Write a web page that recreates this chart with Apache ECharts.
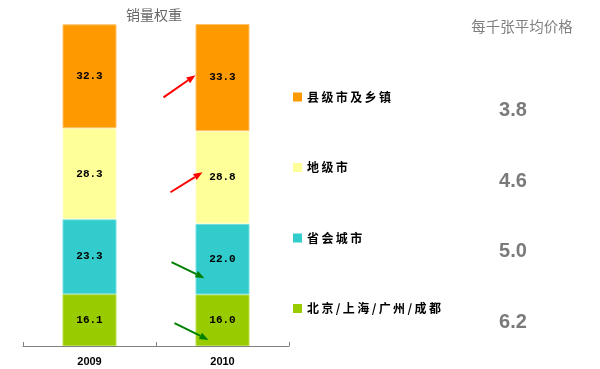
<!DOCTYPE html>
<html>
<head>
<meta charset="utf-8">
<script src="https://cdn.jsdelivr.net/npm/echarts@6/dist/echarts.min.js"></script>
<style>html,body{margin:0;padding:0;background:#fff;}#c{width:600px;height:369px;}</style>
</head>
<body>
<div id="c"></div>
<script>
const years = ['2009', '2010'];
const tierNames = ['北京/上海/广州/成都', '省会城市', '地级市', '县级市及乡镇'];
const tier1 = [16.1, 16.0];
const provincial = [23.3, 22.0];
const prefecture = [28.3, 28.8];
const county = [32.3, 33.3];
const prices = [3.8, 4.6, 5.0, 6.2]; // top-to-bottom: 县级市及乡镇, 地级市, 省会城市, 北京...
const colors = ['#99cc00', '#33cccc', '#ffff99', '#ff9900'];
const borders = ['#b8dd44', '#77e0e0', '#ffffcc', '#ffc266'];

const chart = echarts.init(document.getElementById('c'));
const seriesData = [tier1, provincial, prefecture, county];
const cnFont = '"Noto Sans CJK SC", sans-serif';

const series = seriesData.map((d, i) => ({
  name: tierNames[i],
  type: 'bar',
  stack: 'total',
  barWidth: 54,
  data: d,
  itemStyle: { color: colors[i], borderColor: borders[i], borderWidth: 1 },
  label: {
    show: true, position: 'inside',
    formatter: p => p.value.toFixed(1),
    fontFamily: '"Liberation Mono", monospace', fontSize: 11, fontWeight: 'bold', color: '#000'
  }
}));

chart.setOption({
  animation: false,
  title: [
    { text: '销量权重', left: 149, top: 3, textAlign: 'center',
      textStyle: { fontFamily: cnFont, fontSize: 14, fontWeight: 'normal', color: '#666' } },
    { text: '每千张平均价格', left: 517, top: 14, textAlign: 'center',
      textStyle: { fontFamily: cnFont, fontSize: 14.5, fontWeight: 'normal', color: '#808080' } }
  ],
  legend: {
    orient: 'vertical', left: 293, top: 90, padding: 0,
    icon: 'rect', itemWidth: 9, itemHeight: 9, itemGap: 56.5,
    itemStyle: { borderWidth: 0 },
    data: tierNames.slice().reverse(),
    formatter: n => n.split('').join('\u2009'),
    textStyle: { fontFamily: cnFont, fontSize: 12, fontWeight: 'bold', color: '#000', lineHeight: 14 }
  },
  grid: { left: 23, right: 311, top: 24, bottom: 23 },
  xAxis: {
    type: 'category', data: years,
    axisLine: { lineStyle: { color: '#808080' } },
    axisTick: { show: true, inside: true, length: 4, lineStyle: { color: '#808080' } },
    axisLabel: { margin: 10, fontFamily: '"Liberation Sans", sans-serif', fontWeight: 'bold', fontSize: 11, color: '#000' }
  },
  yAxis: { type: 'value', min: 0, max: 100.1, show: false, splitLine: { show: false } },
  series: series
});

// price texts and arrows as annotations
const priceY = [110, 181, 251, 322];
const graphics = prices.map((p, i) => ({
  type: 'text', z: 100,
  style: { text: p.toFixed(1), x: 513, y: priceY[i], align: 'center', verticalAlign: 'middle',
    fontFamily: '"Liberation Sans", Arial, sans-serif', fontSize: 20, fontWeight: 'bold', fill: '#7a7a7a' }
}));

// arrows: offsets relative to 2010 bar center, heights in data values
const arrows = [
  { color: '#ff0000', fdx: -59, fv: 77.3, tdx: -27, tv: 84.2 },
  { color: '#ff0000', fdx: -52, fv: 47.8, tdx: -20, tv: 54.0 },
  { color: '#008000', fdx: -51, fv: 26.1, tdx: -18, tv: 21.1 },
  { color: '#008000', fdx: -48, fv: 7.1, tdx: -14, tv: 1.9 }
];
arrows.forEach(a => {
  const f = chart.convertToPixel({ gridIndex: 0 }, ['2010', a.fv]);
  const t = chart.convertToPixel({ gridIndex: 0 }, ['2010', a.tv]);
  const x1 = f[0] + a.fdx, y1 = f[1], x2 = t[0] + a.tdx, y2 = t[1];
  const ang = Math.atan2(y2 - y1, x2 - x1);
  const L = 9, W = 3.5;
  const bx = x2 - L * Math.cos(ang), by = y2 - L * Math.sin(ang);
  const px = -Math.sin(ang) * W, py = Math.cos(ang) * W;
  graphics.push({ type: 'line', z: 100, shape: { x1: x1, y1: y1, x2: bx, y2: by },
    style: { stroke: a.color, lineWidth: 2 } });
  graphics.push({ type: 'polygon', z: 100, shape: { points: [[x2, y2], [bx + px, by + py], [bx - px, by - py]] },
    style: { fill: a.color } });
});
chart.setOption({ graphic: graphics });
</script>
</body>
</html>
